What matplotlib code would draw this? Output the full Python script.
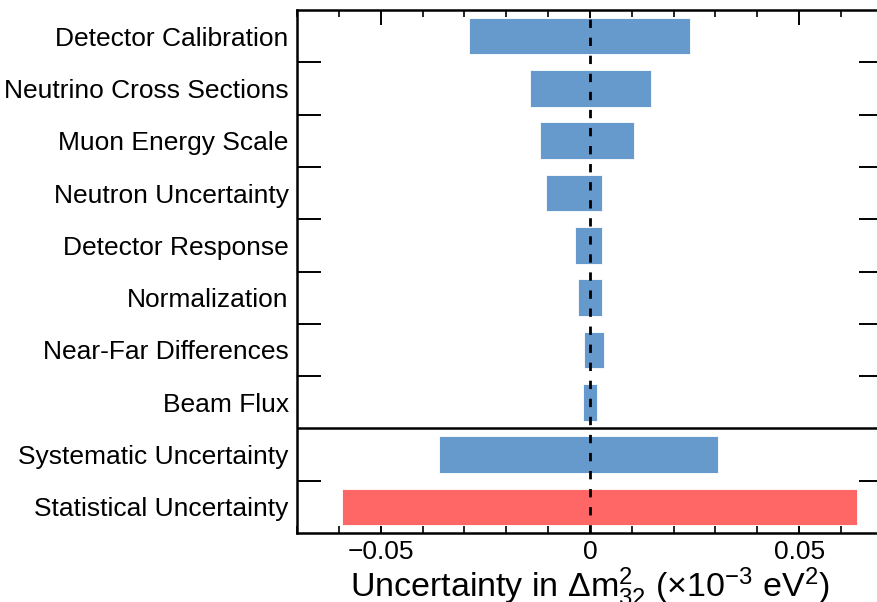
import matplotlib.pyplot as plt
from matplotlib.ticker import MultipleLocator, FixedLocator, NullFormatter

plt.rcParams['font.family'] = ['Liberation Sans', 'DejaVu Sans']
plt.rcParams['mathtext.fontset'] = 'custom'
plt.rcParams['mathtext.rm'] = 'Liberation Sans'
plt.rcParams['mathtext.it'] = 'Liberation Sans'

# Datos (de abajo hacia arriba)
categorias = ['Statistical Uncertainty', 'Systematic Uncertainty', 'Beam Flux',
              'Near-Far Differences', 'Normalization', 'Detector Response',
              'Neutron Uncertainty', 'Muon Energy Scale', 'Neutrino Cross Sections',
              'Detector Calibration']
bajo = [-0.0592, -0.0361, -0.0017, -0.0015, -0.0029, -0.0035, -0.0104, -0.0119, -0.0143, -0.0289]
alto = [0.0638, 0.0305, 0.0018, 0.0034, 0.0029, 0.0028, 0.0028, 0.0105, 0.0145, 0.0239]
colores = ['#ff6666'] + ['#6699cc'] * 9

fig = plt.figure(figsize=(8.77, 6.02), dpi=100)
ax = fig.add_axes([0.3387, 0.1146, 0.668, 0.8688])

y = list(range(len(categorias)))
anchos = [a - b for a, b in zip(alto, bajo)]
ax.barh(y, anchos, left=bajo, height=0.7, color=colores,
        edgecolor='white', linewidth=0.6, zorder=2)

ax.axvline(0, color='black', linestyle=(0, (3, 3.5)), linewidth=2, zorder=3)
ax.axhline(1.5, color='black', linewidth=1.8, zorder=3)

ax.set_xlim(-0.07, 0.07)
ax.set_ylim(-0.5, 9.5)

ax.set_yticks(y)
ax.set_yticklabels(categorias, fontsize=19)
ax.yaxis.set_minor_locator(FixedLocator([0.5, 2.5, 3.5, 4.5, 5.5, 6.5, 7.5, 8.5]))
ax.tick_params(axis='y', which='major', length=0, pad=6)
ax.tick_params(axis='y', which='minor', direction='in', length=17, width=1.4,
               left=True, right=True)

ax.set_xticks([-0.05, 0, 0.05])
ax.set_xticklabels(['\u22120.05', '0', '0.05'], fontsize=19)
ax.xaxis.set_minor_locator(MultipleLocator(0.01))
ax.xaxis.set_minor_formatter(NullFormatter())
ax.tick_params(axis='x', which='major', direction='in', length=10.5, width=1.4,
               top=True, bottom=True, pad=5)
ax.tick_params(axis='x', which='minor', direction='in', length=5, width=1.2,
               top=True, bottom=True)

ax.set_xlabel(r'Uncertainty in $\Delta$m$^{2}_{32}$ ($\times$10$^{-3}$ eV$^{2}$)',
              fontsize=24.5, labelpad=1)

for s in ax.spines.values():
    s.set_linewidth(1.8)

plt.savefig('out.png', dpi=100)
